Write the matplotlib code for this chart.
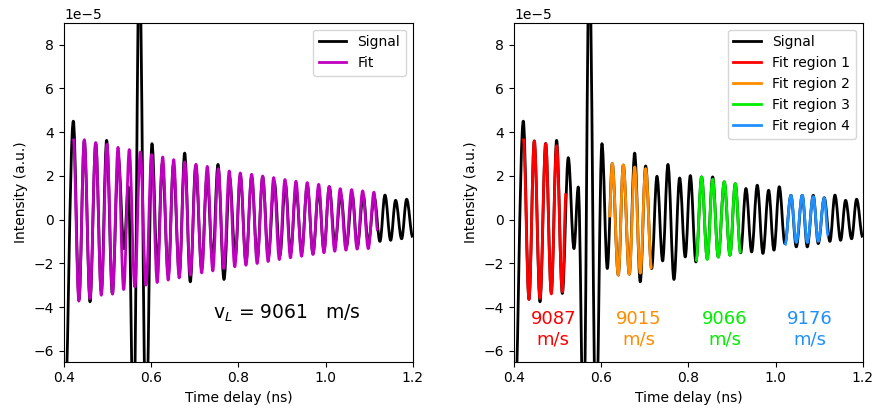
import matplotlib
matplotlib.use("Agg")
import matplotlib.pyplot as plt
from matplotlib.path import Path
from matplotlib.patches import PathPatch
from matplotlib.lines import Line2D
from matplotlib.ticker import MultipleLocator

SCALE = 1e-5

# Signal extrema (time in ns, intensity in units of 1e-5)
sig_t = [0.4000, 0.4214, 0.4344, 0.4466, 0.4597, 0.4727, 0.4856, 0.4978, 0.5109, 0.5246,
         0.5376, 0.5475, 0.5598, 0.5728, 0.5881, 0.6018, 0.6141, 0.6255, 0.6393, 0.6508,
         0.6646, 0.6768, 0.6897, 0.7020, 0.7158, 0.7280, 0.7410, 0.7532, 0.7670, 0.7800,
         0.7929, 0.8045, 0.8174, 0.8304, 0.8434, 0.8557, 0.8686, 0.8824, 0.8954, 0.9077,
         0.9199, 0.9321, 0.9452, 0.9581, 0.9711, 0.9841, 0.9964, 1.0086, 1.0215, 1.0353,
         1.0476, 1.0613, 1.0728, 1.0865, 1.0980, 1.1118, 1.1247, 1.1363, 1.1493, 1.1607,
         1.1745, 1.1860, 1.2000]
sig_v = [-10.0, 4.50, -3.65, 3.60, -3.76, 3.48, -3.30, 3.62, -3.38, 2.83,
         -1.33, 1.49, -10.0, 12.0, -10.0, 3.47, -2.24, 2.56, -2.54, 2.49,
         -2.50, 3.04, -2.85, 2.45, -2.24, 1.98, -1.89, 2.52, -2.74, 1.90,
         -1.71, 2.01, -1.94, 1.95, -1.78, 1.95, -1.71, 1.72, -1.63, 1.64,
         -1.52, 1.42, -1.48, 1.57, -1.55, 1.34, -1.40, 1.50, -1.10, 1.11,
         -1.25, 1.11, -1.25, 1.11, -1.10, 1.00, -1.00, 1.12, -0.95, 0.88,
         -0.88, 0.93, -0.80]

# Global fit extrema (left panel)
fit_t = [0.4213, 0.4341, 0.4466, 0.4596, 0.4727, 0.4856, 0.4986, 0.5113, 0.5239, 0.5369,
         0.5498, 0.5624, 0.5750, 0.5881, 0.6011, 0.6138, 0.6264, 0.6390, 0.6516, 0.6642,
         0.6768, 0.6898, 0.7028, 0.7158, 0.7287, 0.7413, 0.7539, 0.7665, 0.7791, 0.7917,
         0.8044, 0.8174, 0.8305, 0.8431, 0.8557, 0.8683, 0.8810, 0.8940, 0.9069, 0.9195,
         0.9321, 0.9450, 0.9580, 0.9711, 0.9842, 0.9963, 1.0085, 1.0211, 1.0337, 1.0468,
         1.0599, 1.0725, 1.0851, 1.0980, 1.1110, 1.1195]
fit_v = [3.70, -3.73, 3.65, -3.61, 3.52, -3.46, 3.44, -3.41, 3.30, -3.20,
         3.20, -3.08, 3.09, -3.00, 2.97, -2.88, 2.86, -2.77, 2.74, -2.67,
         2.63, -2.54, 2.53, -2.44, 2.43, -2.35, 2.33, -2.24, 2.22, -2.16,
         2.13, -2.09, 2.07, -2.01, 1.99, -1.92, 1.92, -1.83, 1.83, -1.75,
         1.75, -1.68, 1.69, -1.60, 1.61, -1.52, 1.51, -1.45, 1.41, -1.40,
         1.37, -1.35, 1.31, -1.33, 1.25, -0.50]

# Regional fits (right panel)
r1_t = [0.4214, 0.4344, 0.4466, 0.4597, 0.4727, 0.4856, 0.4978, 0.5109, 0.5193]
r1_v = [3.70, -3.65, 3.58, -3.60, 3.47, -3.40, 3.37, -3.30, 1.20]
r2_t = [0.6186, 0.6255, 0.6393, 0.6508, 0.6646, 0.6768, 0.6897, 0.7020, 0.7158]
r2_v = [0.10, 2.57, -2.54, 2.50, -2.50, 2.40, -2.45, 2.33, -2.26]
r3_t = [0.8174, 0.8304, 0.8434, 0.8557, 0.8686, 0.8824, 0.8954, 0.9077, 0.9199]
r3_v = [-1.92, 1.95, -1.83, 1.84, -1.72, 1.74, -1.63, 1.64, -1.55]
r4_t = [1.0215, 1.0353, 1.0476, 1.0613, 1.0728, 1.0865, 1.0980, 1.1118, 1.1208]
r4_v = [-1.17, 1.11, -1.05, 1.11, -1.05, 1.05, -1.00, 0.98, -0.75]

region_colors = ["#ff0000", "#ff8c00", "#00ee00", "#1e90ff"]
region_labels = ["Fit region 1", "Fit region 2", "Fit region 3", "Fit region 4"]
region_speeds = ["9087", "9015", "9066", "9176"]
speed_x = [0.4902, 0.6860, 0.8828, 1.0789]
speed_y = -5.03
global_speed = "9061"

xlim = (0.4, 1.2)
ylim = (-6.5, 9.0)


def smooth_patch(t, v, color, lw=2.0, z=2):
    k = 0.3642
    verts = [(t[0], v[0] * SCALE)]
    codes = [Path.MOVETO]
    for i in range(len(t) - 1):
        dt = t[i + 1] - t[i]
        verts += [(t[i] + k * dt, v[i] * SCALE),
                  (t[i + 1] - k * dt, v[i + 1] * SCALE),
                  (t[i + 1], v[i + 1] * SCALE)]
        codes += [Path.CURVE4] * 3
    return PathPatch(Path(verts, codes), fill=False, edgecolor=color, lw=lw,
                     joinstyle="round", capstyle="butt", zorder=z)


fig = plt.figure(figsize=(8.78, 4.13), dpi=100)
ax1 = fig.add_axes([0.0729, 0.1242, 0.3972, 0.8208])
ax2 = fig.add_axes([0.5854, 0.1242, 0.3972, 0.8208])

for ax in (ax1, ax2):
    ax.add_patch(smooth_patch(sig_t, sig_v, "black", z=2))
    ax.set_xlim(*xlim)
    ax.set_ylim(ylim[0] * SCALE, ylim[1] * SCALE)
    ax.xaxis.set_major_locator(MultipleLocator(0.2))
    ax.yaxis.set_major_locator(MultipleLocator(2 * SCALE))
    ax.set_xlabel("Time delay (ns)")
    ax.set_ylabel("Intensity (a.u.)")

ax1.add_patch(smooth_patch(fit_t, fit_v, "#bf00bf", z=3))
ax1.text(0.911, -4.29 * SCALE, "v$_L$ = " + global_speed + "   m/s", fontsize=13.5,
         ha="center", va="center")
ax1.legend(handles=[Line2D([], [], color="black", lw=2, label="Signal"),
                    Line2D([], [], color="#bf00bf", lw=2, label="Fit")],
           loc="upper right")

handles = [Line2D([], [], color="black", lw=2, label="Signal")]
for (t, v), c, lab, sp, sx in zip([(r1_t, r1_v), (r2_t, r2_v), (r3_t, r3_v), (r4_t, r4_v)],
                                  region_colors, region_labels, region_speeds, speed_x):
    ax2.add_patch(smooth_patch(t, v, c, z=3))
    handles.append(Line2D([], [], color=c, lw=2, label=lab))
    ax2.text(sx, speed_y * SCALE, sp + "\nm/s", color=c, fontsize=13,
             ha="center", va="center", linespacing=1.2)
ax2.legend(handles=handles, loc="upper right")

fig.savefig("out.png", dpi=100)
